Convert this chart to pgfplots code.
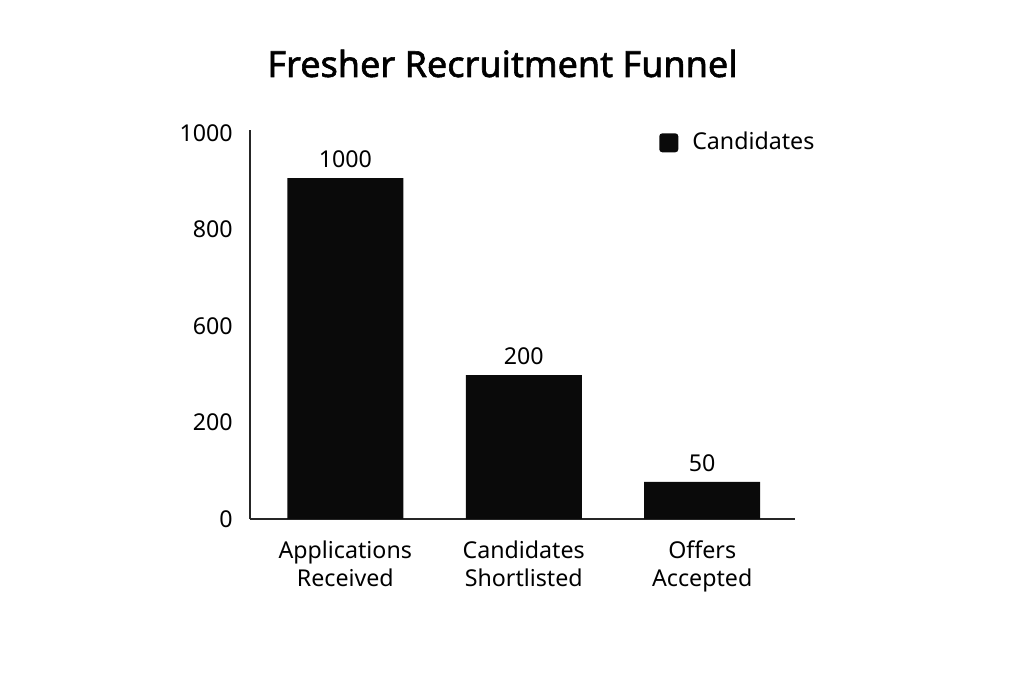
\documentclass[border=0pt]{standalone}
\usepackage{fontspec}
\setmainfont{Noto Sans}
\newfontfamily\titlefont[FakeBold=1.6]{Noto Sans}
\usepackage{pgfplots}
\pgfplotsset{compat=1.18}
\definecolor{barblack}{HTML}{0A0A0A}
\begin{document}
\fontsize{11.6}{14}\selectfont
\begin{tikzpicture}[x=0.5pt,y=0.5pt]
% frame of the reference image (1024x683 px, 1 px = 0.5 pt)
\path (0,0) rectangle (1024,683);
\node[anchor=base, font=\titlefont\fontsize{18}{22}\selectfont] at (502.5,606) {Fresher Recruitment Funnel};
\begin{axis}[
    at={(125pt,82pt)}, anchor=south west,
    scale only axis,
    width=272.5pt, height=194.5pt,
    xmin=-0.534, xmax=2.52,
    ymin=0, ymax=1007.8,
    axis x line=bottom, axis y line=left,
    axis line style={-, line width=0.75pt, black!85},
    major tick length=0pt,
    tick style={draw=none},
    /pgf/number format/assume math mode=true,
    xtick={0,1,2},
    xticklabels={{Applications\\Received},{Candidates\\Shortlisted},{Offers\\Accepted}},
    xticklabel style={align=center, anchor=north, inner sep=0pt, yshift=-10.5pt},
    ytick={0,250,500,750,1000},
    yticklabels={0,200,600,800,1000},
    yticklabel style={anchor=east, inner sep=0pt, xshift=-8.5pt},
    ybar, bar width=0.65,
    nodes near coords={\pgfplotspointmeta},
    nodes near coords style={anchor=south, inner sep=0pt, yshift=5pt},
    point meta=explicit symbolic,
    legend style={draw=none, fill=none, inner sep=0pt, outer sep=0pt,
        nodes={inner sep=0pt}, at={(0.751,0.967)}, anchor=west},
    legend image code/.code={
        \draw[fill=barblack, draw=none, rounded corners=1.5pt] (0pt,-4.75pt) rectangle (9.5pt,4.75pt);
        \path (16.5pt,0pt);
    },
]
\addplot[fill=barblack, draw=none] coordinates {
    (0,883) [1000]
    (1,373) [200]
    (2,96) [50]
};
\addlegendentry{Candidates}
\end{axis}
\end{tikzpicture}
\end{document}
